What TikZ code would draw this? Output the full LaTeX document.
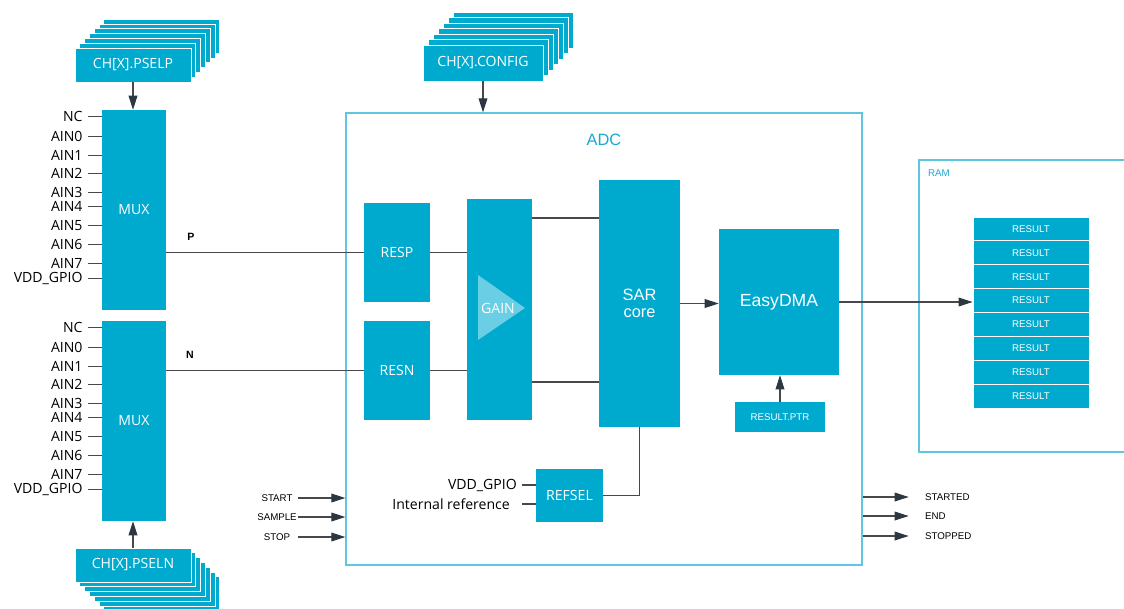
\documentclass[tikz,border=0pt]{standalone}
\usepackage{fontspec}
\setmainfont{Open Sans}
\newfontfamily\arialfont{Liberation Sans}
\usetikzlibrary{arrows.meta,positioning,calc}

\definecolor{boxcol}{RGB}{0,169,206}
\definecolor{gaincol}{RGB}{106,207,228}
\definecolor{framecol}{RGB}{95,198,224}
\definecolor{adctext}{RGB}{26,168,210}
\definecolor{wirecol}{RGB}{70,72,76}
\definecolor{tipcol}{RGB}{45,55,66}

\begin{document}
\begin{tikzpicture}[x=0.03cm, y=-0.03cm,
  blk/.style 2 args={rectangle, fill=boxcol, minimum width=#1*0.03cm, minimum height=#2*0.03cm, inner sep=0pt, text=white, font=\fontsize{12}{14}\selectfont},
  layer/.style 2 args={blk={#1}{#2}, draw=white, line width=0.7pt},
  wire/.style={draw=wirecol, line width=0.9pt},
  arrow/.style={wire, -{Triangle[length=12pt, width=7.5pt, color=tipcol]}},
  pinlbl/.style={anchor=east, inner xsep=0.15cm, inner ysep=0pt, font=\fontsize{12}{14}\selectfont},
  sig/.style={font=\arialfont\fontsize{8.3}{10}\selectfont},
  big/.style={font=\arialfont\fontsize{14}{15}\selectfont},
  frame/.style={draw=framecol, line width=1.1pt}]

  \useasboundingbox (0,0) rectangle (1124,608);

  % register stacks
  \foreach \i in {6,...,1}
    \node[layer={116}{34}] (pselp-\i) at (133+4.8*\i, 65-4.8*\i) {};
  \node[layer={116}{34}] (pselp) at (133,65) {CH[X].PSELP};
  \foreach \i in {6,...,1}
    \node[layer={116}{34}] (pseln-\i) at (133+4.8*\i, 565+4.8*\i) {};
  \node[layer={116}{34}] (pseln) at (133,565) {CH[X].PSELN};
  \foreach \i in {6,...,1}
    \node[layer={120}{36}] (config-\i) at (483+5*\i, 63-5.5*\i) {};
  \node[layer={120}{36}] (config) at (483,63) {CH[X].CONFIG};

  % multiplexers and their inputs
  \node[blk={64}{200}] (muxp) at (134,210) {MUX};
  \node[blk={64}{200}] (muxn) at (134,421) {MUX};
  \foreach \m in {muxp,muxn}
    \foreach \t/\o [count=\i] in {NC/7, AIN0/27, AIN1/46, AIN2/64, AIN3/83, AIN4/97, AIN5/116, AIN6/135, AIN7/154, VDD\_GPIO/169} {
      \node[pinlbl] (\m-\i) at ($(\m.north west)+(-14,\o)$) {\t};
      \draw[wire] (\m-\i.east) -- (\m-\i.east -| \m.west);
    }
  \draw[arrow] (pselp.south) -- (pselp.south |- muxp.north);
  \draw[arrow] (pseln.north) -- (pseln.north |- muxn.south);

  % ADC
  \node[frame, minimum width=516*0.03cm, minimum height=452*0.03cm, inner sep=0pt] (adc) at (604,339) {};
  \node[big, text=adctext] (adclbl) at (604,140) {ADC};
  \draw[arrow] (config.south) -- (config.south |- adc.north);

  \node[blk={66}{99}] (resp) at (397,252.5) {RESP};
  \node[blk={66}{99}] (resn) at (397,370.5) {RESN};
  \node[blk={65}{221}] (gain) at (499.5,309.5) {};
  \fill[gaincol] (478,275) -- (478,340) -- (525,308) -- cycle;
  \node[text=white, font=\fontsize{12}{14}\selectfont] (gainlbl) at (498,308) {GAIN};
  \node[blk={81}{247}, big, align=center] (sar) at (639.5,303.5) {SAR\\core};
  \node[blk={120}{146}, font=\arialfont\fontsize{15}{16}\selectfont] (dma) at (779,302) {EasyDMA};
  \node[blk={90}{30}, sig] (ptr) at (780,417) {RESULT.PTR};
  \node[blk={67}{53}] (refsel) at (569.5,495.5) {REFSEL};

  \node[font=\arialfont\bfseries\fontsize{9}{10}\selectfont] (plbl) at (191,237) {P};
  \node[font=\arialfont\bfseries\fontsize{9}{10}\selectfont] (nlbl) at (190,355) {N};
  \draw[wire] (resp.west -| muxp.east) -- (resp.west);
  \draw[wire] (resn.west -| muxn.east) -- (resn.west);
  \draw[wire] (resp.east) -- (resp.east -| gain.west);
  \draw[wire] (resn.east) -- (resn.east -| gain.west);
  \coordinate (gtop) at (560,218);
  \coordinate (gbot) at (560,382);
  \draw[wire] (gain.east |- gtop) -- (sar.west |- gtop);
  \draw[wire] (gain.east |- gbot) -- (sar.west |- gbot);
  \draw[arrow] (sar.east) -- (sar.east -| dma.west);
  \draw[arrow] (ptr.north) -- (ptr.north |- dma.south);
  \draw[wire] (sar.south) |- (refsel.east);

  \node[pinlbl] (vddref) at (522,485) {VDD\_GPIO};
  \node[anchor=east, inner sep=0pt, font=\fontsize{12}{14}\selectfont] (intref) at (510,504) {Internal reference};
  \draw[wire] (vddref.east) -- (vddref.east -| refsel.west);
  \draw[wire] (refsel.west |- intref) -- ++(-14,0);

  % tasks and events
  \foreach \t/\y/\s in {start/498/START, sample/517/SAMPLE, stop/537/STOP} {
    \node[sig] (\t) at (277,\y) {\s};
    \draw[arrow] ($(adc.west |- \t)+(-47,0)$) -- (adc.west |- \t);
  }
  \foreach \t/\y/\s in {started/497/STARTED, end/516/END, stopped/536/STOPPED} {
    \node[sig, anchor=west] (\t) at (921,\y) {\s};
    \draw[arrow] (adc.east |- \t) -- ++(46,0);
  }

  % RAM
  \draw[frame] (1130,160) -- (919,160) -- (919,452) -- (1130,452);
  \node[sig, text=adctext, anchor=west] (ramlbl) at (924,173) {RAM};
  \foreach \k in {0,...,7}
    \node[layer={116}{24}, sig] (res\k) at (1031, 229+23.875*\k) {RESULT};
  \draw[arrow] (dma.east) -- (dma.east -| res3.west);

\end{tikzpicture}
\end{document}
